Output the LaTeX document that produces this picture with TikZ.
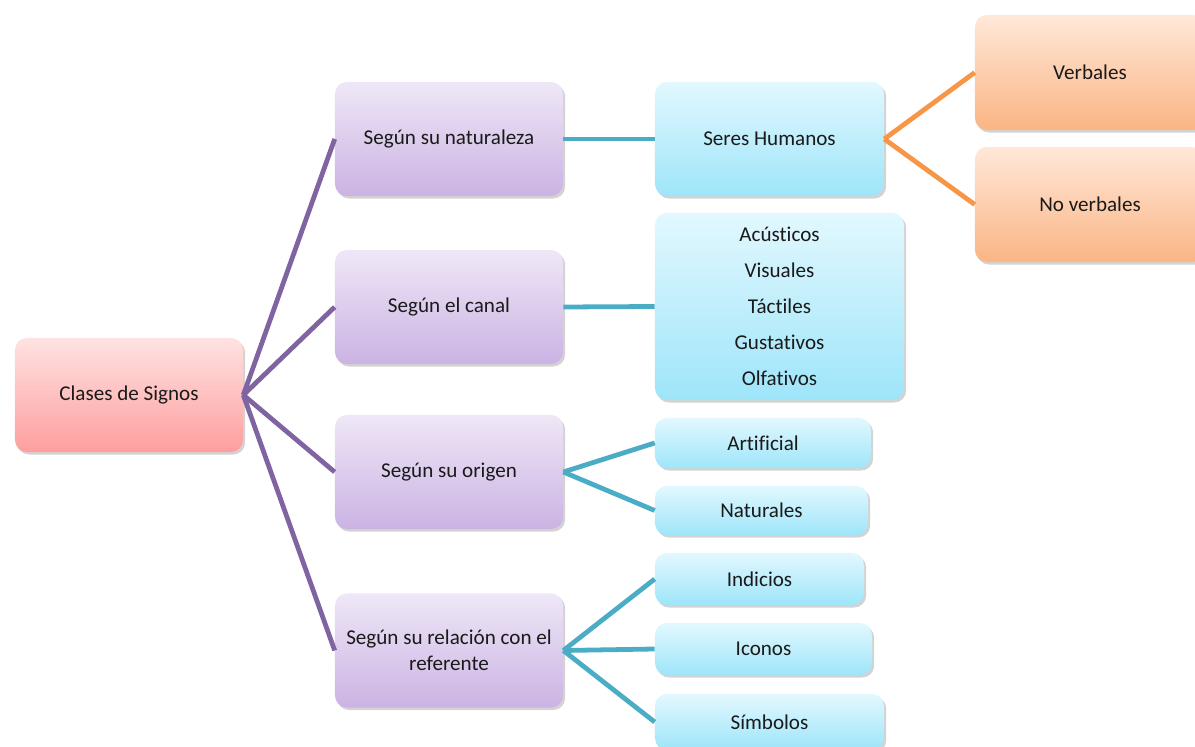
\documentclass[tikz,border=0pt]{standalone}
\usepackage{fontspec}
\setmainfont{Carlito}[Ligatures=NoCommon]
\usetikzlibrary{shadows}
\definecolor{rosaA}{HTML}{FFE2E2}
\definecolor{rosaB}{HTML}{FE9E9E}
\definecolor{lilaA}{HTML}{EFE7F7}
\definecolor{lilaB}{HTML}{CBB3E3}
\definecolor{celA}{HTML}{E2F8FE}
\definecolor{celB}{HTML}{9EE5FA}
\definecolor{narA}{HTML}{FFE8D8}
\definecolor{narB}{HTML}{FAB584}
\definecolor{lineaLila}{HTML}{8064A2}
\definecolor{lineaCel}{HTML}{4BACC6}
\definecolor{lineaNar}{HTML}{F79646}
\definecolor{texto}{HTML}{1A1A1A}
\begin{document}
\begin{tikzpicture}[x=0.025cm,y=-0.025cm,
	caja/.style={rectangle,rounded corners=8.5pt,inner sep=0pt,align=center,
		font=\fontsize{15}{18.4}\selectfont,text=texto,
		drop shadow={opacity=0.35,shadow xshift=1.5pt,shadow yshift=-1.8pt}},
	raiz/.style={caja,top color=rosaA,bottom color=rosaB,minimum width=5.7cm,minimum height=2.85cm},
	tipo/.style={caja,top color=lilaA,bottom color=lilaB,minimum width=5.7cm,minimum height=2.85cm},
	hoja/.style={caja,top color=celA,bottom color=celB},
	fin/.style={caja,top color=narA,bottom color=narB,minimum width=5.75cm,minimum height=2.875cm},
	rama/.style={line width=3.4pt}]
	\useasboundingbox (0,0) rectangle (1195,747);
	% raiz y tipos
	\node[raiz] (clases) at (129,395) {Clases de Signos};
	\node[tipo] (natur) at (449,139) {Según su naturaleza};
	\node[tipo] (canal) at (449,307) {Según el canal};
	\node[tipo] (origen) at (449,472) {Según su origen};
	\node[tipo] (relac) at (449,650.5) {Según su relación con el\\referente};
	% hojas
	\node[hoja,minimum width=5.725cm,minimum height=2.85cm] (seres) at (769.5,139) {Seres Humanos};
	\node[hoja,minimum width=6.225cm,minimum height=4.675cm,font=\fontsize{15}{25.6}\selectfont] (sentidos) at (779.5,306.5)
		{Acústicos\\Visuales\\Táctiles\\Gustativos\\Olfativos};
	\node[hoja,minimum width=5.4cm,minimum height=1.25cm] (artif) at (763,443) {Artificial};
	\node[hoja,minimum width=5.325cm,minimum height=1.225cm] (natura) at (761.5,510.5) {Naturales};
	\node[hoja,minimum width=5.225cm,minimum height=1.3cm] (indic) at (759.5,579) {Indicios};
	\node[hoja,minimum width=5.425cm,minimum height=1.3cm] (iconos) at (763.5,649) {Iconos};
	\node[hoja,minimum width=5.725cm,minimum height=1.4cm] (simb) at (769.5,722) {Símbolos};
	\node[fin] (verb) at (1090,72.5) {Verbales};
	\node[fin] (noverb) at (1090,204.5) {No verbales};
	% conectores
	\draw[rama,lineaLila] (clases.east) -- (natur.west);
	\draw[rama,lineaLila] (clases.east) -- (canal.west);
	\draw[rama,lineaLila] (clases.east) -- (origen.west);
	\draw[rama,lineaLila] (clases.east) -- (relac.west);
	\draw[rama,lineaCel] (natur.east) -- (seres.west);
	\draw[rama,lineaCel] (canal.east) -- (sentidos.west);
	\draw[rama,lineaCel] (origen.east) -- (artif.west);
	\draw[rama,lineaCel] (origen.east) -- (natura.west);
	\draw[rama,lineaCel] (relac.east) -- (indic.west);
	\draw[rama,lineaCel] (relac.east) -- (iconos.west);
	\draw[rama,lineaCel] (relac.east) -- (simb.west);
	\draw[rama,lineaNar] (seres.east) -- (verb.west);
	\draw[rama,lineaNar] (seres.east) -- (noverb.west);
\end{tikzpicture}
\end{document}
